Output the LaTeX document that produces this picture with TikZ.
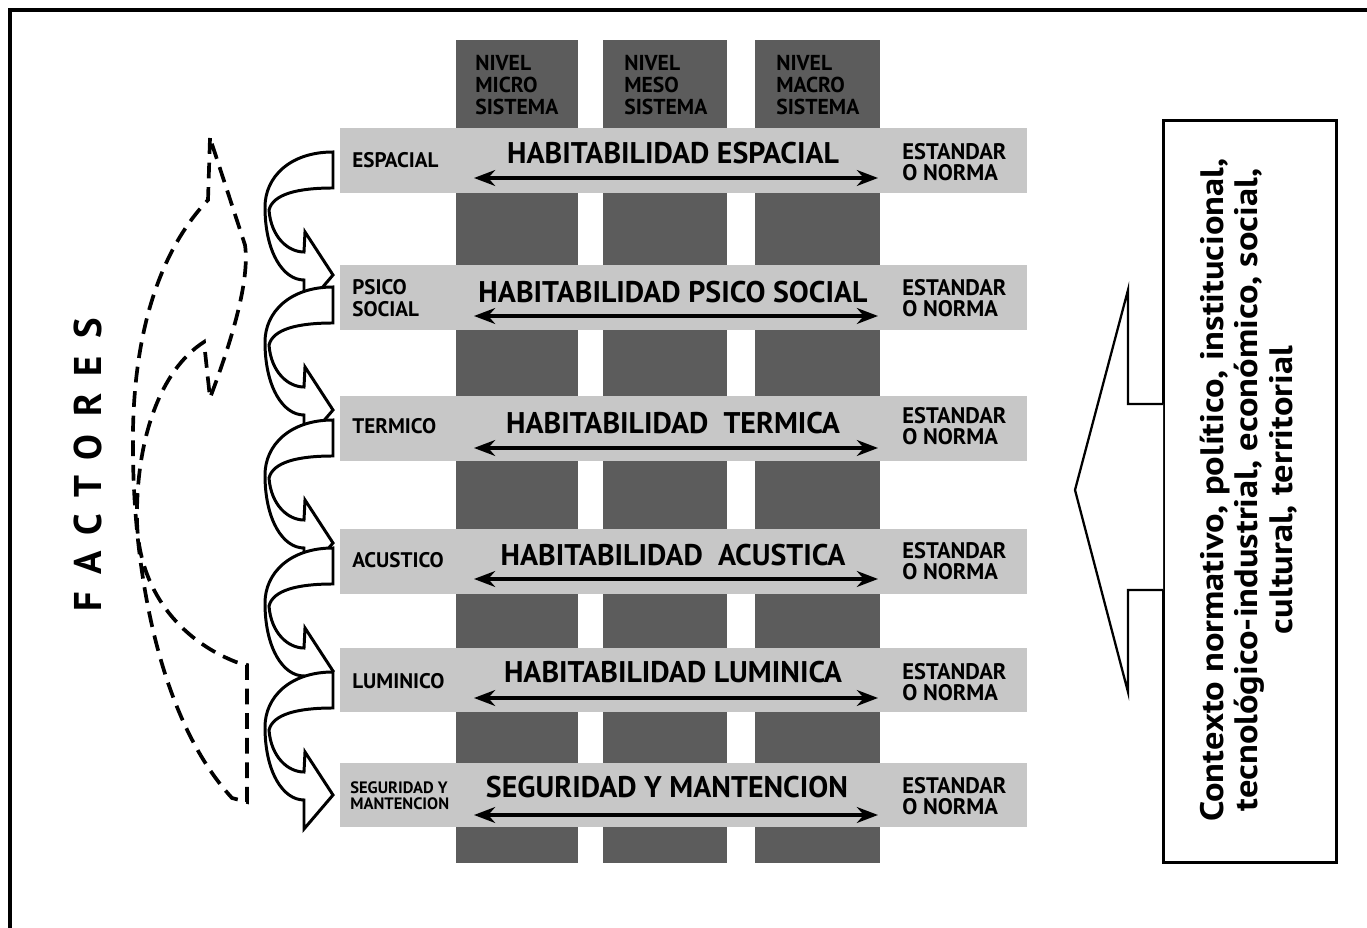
\documentclass[tikz,border=0pt]{standalone}
\usepackage{fontspec}
\setmainfont{PT Sans}
\usetikzlibrary{arrows.meta}
\definecolor{bandgray}{gray}{0.78}
\definecolor{colgray}{gray}{0.36}
\begin{document}
\begin{tikzpicture}[x=0.02cm,y=-0.02cm,
  band/.style={fill=bandgray, draw=none, minimum width=13.74cm, minimum height=1.3cm, inner sep=0},
  colbox/.style={fill=colgray, draw=none, minimum height=16.46cm, inner sep=0},
  collab/.style={font=\bfseries\fontsize{12.3}{12.5}\selectfont, align=left, inner sep=0, anchor=west},
  leftlab/.style={font=\bfseries\fontsize{12}{12.5}\selectfont, align=left, inner sep=0, anchor=west},
  titlelab/.style={font=\bfseries\fontsize{17}{18}\selectfont, inner sep=0},
  normlab/.style={font=\bfseries\fontsize{12.8}{12}\selectfont, align=left, inner sep=0, anchor=west},
  dbl/.style={line width=2.2pt, {Stealth[length=12pt,width=9pt]}-{Stealth[length=12pt,width=9pt]}},
  dashline/.style={line width=2.1pt, dash pattern=on 9pt off 5pt},
  carrow/.pic={
    \draw[line width=1.7pt, fill=white, line join=miter]
      (0,0) .. controls (-43,0) and (-68,25) .. (-68,55)
      .. controls (-68,100) and (-50,128) .. (-29,128)
      -- (-29,157) -- (0,123) -- (-28,80) -- (-29,100)
      .. controls (-45,100) and (-62,85) .. (-64,58)
      .. controls (-60,42) and (-35,36) .. (0,36) -- cycle;
  }]
\useasboundingbox (0,0) rectangle (1367,928);
\fill[white] (0,0) rectangle (1367,928);
% frame
\draw[line width=2.3pt] (1367,10) -- (10,10) -- (10,928);

% columns
\node[colbox, minimum width=2.44cm] (c1) at (517,451.5) {};
\node[colbox, minimum width=2.48cm] (c2) at (665,451.5) {};
\node[colbox, minimum width=2.5cm] (c3) at (817.5,451.5) {};
\node[collab] (n1) at (475,85) {NIVEL\\MICRO\\SISTEMA};
\node[collab] (n2) at (624,85) {NIVEL\\MESO\\SISTEMA};
\node[collab] (n3) at (776,85) {NIVEL\\MACRO\\SISTEMA};

% bands
\node[band] (b1) at (683.5,160.5) {};
\node[band] (b2) at (683.5,297.5) {};
\node[band] (b3) at (683.5,428.5) {};
\node[band] (b4) at (683.5,561.5) {};
\node[band] (b5) at (683.5,680) {};
\node[band] (b6) at (683.5,795) {};

% left labels
\node[leftlab] (f1) at (352,160.5) {ESPACIAL};
\node[leftlab] (f2) at (352,298) {PSICO\\SOCIAL};
\node[leftlab] (f3) at (352,426) {TERMICO};
\node[leftlab] (f4) at (352,560) {ACUSTICO};
\node[leftlab] (f5) at (352,681) {LUMINICO};
\node[leftlab, font=\bfseries\fontsize{9.4}{9.2}\selectfont] (f6) at (350,796) {SEGURIDAD Y\\MANTENCION};

% titles
\node[titlelab] (t1) at (673,153) {HABITABILIDAD ESPACIAL};
\node[titlelab] (t2) at (673,292) {HABITABILIDAD PSICO SOCIAL};
\node[titlelab] (t3) at (673,423) {HABITABILIDAD\ \ TERMICA};
\node[titlelab] (t4) at (673,555) {HABITABILIDAD\ \ ACUSTICA};
\node[titlelab] (t5) at (673,672) {HABITABILIDAD LUMINICA};
\node[titlelab] (t6) at (667,787) {SEGURIDAD Y MANTENCION};

% norm labels
\node[normlab] (s1) at (902,162) {ESTANDAR\\O NORMA};
\node[normlab] (s2) at (902,298) {ESTANDAR\\O NORMA};
\node[normlab] (s3) at (902,426) {ESTANDAR\\O NORMA};
\node[normlab] (s4) at (902,561) {ESTANDAR\\O NORMA};
\node[normlab] (s5) at (902,682) {ESTANDAR\\O NORMA};
\node[normlab] (s6) at (902,796) {ESTANDAR\\O NORMA};

% double arrows
\foreach \i/\y in {1/178,2/316,3/448,4/579,5/698,6/815}{
  \coordinate (al\i) at (474,\y);
  \coordinate (ar\i) at (878,\y);
  \draw[dbl] (al\i) -- (ar\i);
}

% curved block arrows
\pic (ca1) at (333,152) {carrow};
\pic (ca2) at (333,287) {carrow};
\pic (ca3) at (333,420) {carrow};
\pic (ca4) at (333,548) {carrow};
\pic (ca5) at (333,672) {carrow};

% dashed loop
\draw[dashline, line join=miter] (210,138) -- (208,200)
  .. controls (165,245) and (135,320) .. (133,430)
  .. controls (131,570) and (160,720) .. (232,798)
  -- (247,802) -- (247,665) -- (236,662)
  .. controls (180,640) and (138,590) .. (137,520)
  .. controls (136,440) and (160,370) .. (204,342)
  -- (210,398)
  .. controls (232,340) and (250,280) .. (245,245)
  -- cycle;

% FACTORES
\node[rotate=90, font=\bfseries\fontsize{22}{24}\selectfont\addfontfeature{LetterSpace=45}, inner sep=0] (fac) at (88,465) {FACTORES};

% context box and arrow
\node[draw, line width=1.7pt, minimum width=3.48cm, minimum height=14.86cm, inner sep=0] (ctx) at (1250,491.5) {};
\coordinate (k1) at (1163,404);
\coordinate (k2) at (1163,590);
\draw[line width=1.3pt, fill=white, line join=miter] (k1) -- (1128,404) -- (1128,290) -- (1075,490) -- (1128,692) -- (1128,590) -- (k2);
\node[rotate=90, inner sep=0] (ctxt) at (1251,490)
  {\scalebox{1.12}[1]{\fontsize{18.5}{19.5}\selectfont\bfseries\begin{tabular}{@{}c@{}}Contexto normativo, político, institucional,\\tecnológico-industrial, económico, social,\\cultural, territorial\end{tabular}}};
\end{tikzpicture}
\end{document}
